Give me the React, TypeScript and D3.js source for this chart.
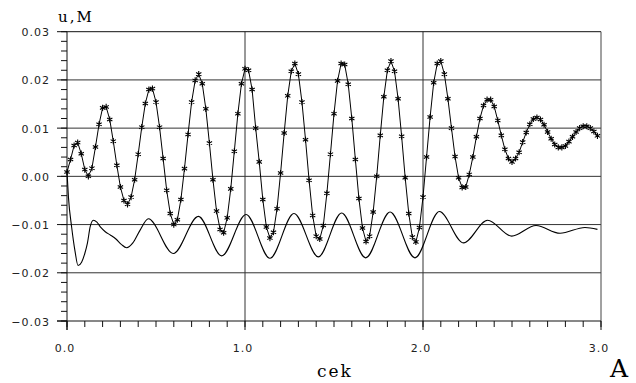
import React, { useEffect, useRef } from 'react';
import * as d3 from 'd3';

const W = 636;
const H = 383;

// displacement u, one value every starStep seconds (asterisk series)
const starStep = 0.02;
const uStar = [
  0.0009, 0.0035, 0.0064, 0.0070, 0.0047, 0.0014, 0.0000, 0.0017, 0.0061, 0.0108,
  0.0142, 0.0144, 0.0118, 0.0073, 0.0023, -0.0022, -0.0050, -0.0058, -0.0043, -0.0007,
  0.0046, 0.0102, 0.0151, 0.0180, 0.0182, 0.0154, 0.0102, 0.0037, -0.0029, -0.0077,
  -0.0100, -0.0090, -0.0048, 0.0016, 0.0087, 0.0154, 0.0199, 0.0212, 0.0192, 0.0140,
  0.0069, -0.0007, -0.0072, -0.0110, -0.0117, -0.0086, -0.0026, 0.0052, 0.0130, 0.0192,
  0.0223, 0.0220, 0.0180, 0.0100, 0.0030, -0.0048, -0.0105, -0.0128, -0.0116, -0.0067,
  0.0007, 0.0090, 0.0167, 0.0218, 0.0234, 0.0212, 0.0154, 0.0076, -0.0008, -0.0081,
  -0.0124, -0.0130, -0.0102, -0.0035, 0.0046, 0.0130, 0.0198, 0.0234, 0.0232, 0.0191,
  0.0120, 0.0035, -0.0046, -0.0107, -0.0135, -0.0124, -0.0074, 0.0000, 0.0085, 0.0165,
  0.0220, 0.0239, 0.0218, 0.0161, 0.0083, -0.0003, -0.0077, -0.0126, -0.0136, -0.0106,
  -0.0043, 0.0040, 0.0123, 0.0194, 0.0234, 0.0239, 0.0212, 0.0161, 0.0100, 0.0041,
  -0.0003, -0.0023, -0.0022, 0.0004, 0.0040, 0.0082, 0.0120, 0.0147, 0.0159, 0.0159,
  0.0145, 0.0116, 0.0085, 0.0056, 0.0037, 0.0030, 0.0037, 0.0050, 0.0071, 0.0091,
  0.0108, 0.0119, 0.0122, 0.0118, 0.0107, 0.0092, 0.0078, 0.0066, 0.0060, 0.0060,
  0.0063, 0.0072, 0.0082, 0.0092, 0.0100, 0.0104, 0.0104, 0.0100, 0.0093, 0.0084,
];

// second (smooth) curve: [time, value]
const lowerCurve: [number, number][] = [
  [0.000, 0.0009], [0.008, -0.0043], [0.026, -0.0105], [0.045, -0.0155], [0.062, -0.0185],
  [0.082, -0.0178], [0.100, -0.0160], [0.115, -0.0138], [0.130, -0.0105], [0.148, -0.0091],
  [0.168, -0.0095], [0.190, -0.0106], [0.215, -0.0115], [0.245, -0.0122], [0.275, -0.0130],
  [0.305, -0.0141], [0.335, -0.0148], [0.370, -0.0138], [0.410, -0.0112], [0.457, -0.0088],
  [0.597, -0.0160], [0.738, -0.0083], [0.869, -0.0165], [1.006, -0.0079], [1.140, -0.0170],
  [1.275, -0.0077], [1.412, -0.0167], [1.543, -0.0076], [1.678, -0.0169], [1.815, -0.0074],
  [1.955, -0.0169], [2.092, -0.0073], [2.227, -0.0138], [2.363, -0.0091], [2.498, -0.0124],
  [2.635, -0.0102], [2.770, -0.0118], [2.910, -0.0106], [2.980, -0.0110],
];

const yMajor = [-0.03, -0.02, -0.01, 0, 0.01, 0.02, 0.03];
const yLabels = ['\u22120.03', '\u22120.02', '\u22120.01', '0.00', '0.01', '0.02', '0.03'];
const xMajor = [0, 1, 2, 3];
const xLabels = ['0.0', '1.0', '2.0', '3.0'];
const yGrid = [-0.02, -0.01, 0, 0.01, 0.02];
const xGrid = [1, 2];

const App = () => {
  const svgRef = useRef<SVGSVGElement>(null);

  useEffect(() => {
    const svg = d3.select(svgRef.current);
    svg.selectAll('*').remove();

    const x = d3.scaleLinear().domain([0, 3]).range([67, 601]);
    const y = d3.scaleLinear().domain([-0.03, 0.03]).range([321, 31.7]);
    const [x0, x1] = x.range();
    const [y0, y1] = y.range();

    const g = svg.append('g');

    // grid
    g.selectAll('.hgrid').data(yGrid).enter().append('line')
      .attr('x1', x0).attr('x2', x1)
      .attr('y1', d => y(d)).attr('y2', d => y(d))
      .attr('stroke', '#333').attr('stroke-width', 1);
    g.selectAll('.vgrid').data(xGrid).enter().append('line')
      .attr('x1', d => x(d)).attr('x2', d => x(d))
      .attr('y1', y1).attr('y2', y0)
      .attr('stroke', '#333').attr('stroke-width', 1);

    // frame
    g.append('line').attr('x1', x0).attr('x2', x1).attr('y1', y1).attr('y2', y1).attr('stroke', '#111');
    g.append('line').attr('x1', x1).attr('x2', x1).attr('y1', y1).attr('y2', y0).attr('stroke', '#444');
    g.append('line').attr('x1', x0).attr('x2', x0).attr('y1', y1).attr('y2', y0 + 9).attr('stroke', '#111');
    g.append('line').attr('x1', x0 - 10).attr('x2', x1).attr('y1', y0).attr('y2', y0).attr('stroke', '#111');

    // y ticks
    const yMinor = d3.range(-15, 16).map(k => k * 0.002);
    g.selectAll('.ymin').data(yMinor).enter().append('line')
      .attr('x1', x0 - 6).attr('x2', x0)
      .attr('y1', d => y(d)).attr('y2', d => y(d))
      .attr('stroke', '#111');
    g.selectAll('.ymaj').data(yMajor).enter().append('line')
      .attr('x1', x0 - 10).attr('x2', x0)
      .attr('y1', d => y(d)).attr('y2', d => y(d))
      .attr('stroke', '#111');
    g.selectAll('.ylab').data(yMajor).enter().append('text')
      .attr('x', 50).attr('y', d => y(d) + 4.5)
      .attr('text-anchor', 'end')
      .attr('font-family', 'DejaVu Sans')
      .attr('font-size', 11)
      .attr('letter-spacing', 1)
      .attr('fill', '#222')
      .text((d, i) => yLabels[i]);

    // x ticks
    const xMinor = d3.range(0, 31).map(k => k * 0.1);
    g.selectAll('.xmin').data(xMinor).enter().append('line')
      .attr('x1', d => x(d)).attr('x2', d => x(d))
      .attr('y1', y0).attr('y2', y0 + 6)
      .attr('stroke', '#111');
    g.selectAll('.xmaj').data(xMajor).enter().append('line')
      .attr('x1', d => x(d)).attr('x2', d => x(d))
      .attr('y1', y0).attr('y2', y0 + 9)
      .attr('stroke', '#111');
    g.selectAll('.xlab').data(xMajor).enter().append('text')
      .attr('x', d => x(d) - 2).attr('y', 352)
      .attr('text-anchor', 'middle')
      .attr('font-family', 'DejaVu Sans')
      .attr('font-size', 11)
      .attr('letter-spacing', 1)
      .attr('fill', '#222')
      .text((d, i) => xLabels[i]);

    // titles
    g.append('text').attr('x', 58).attr('y', 21.7)
      .attr('font-family', 'DejaVu Serif').attr('font-size', 15).attr('letter-spacing', 2)
      .text('u,M');
    g.append('text').attr('x', 317).attr('y', 377)
      .attr('font-family', 'DejaVu Serif').attr('font-size', 17).attr('letter-spacing', 2)
      .text('cek');
    g.append('text').attr('x', 610).attr('y', 377)
      .attr('font-family', 'DejaVu Serif').attr('font-size', 25)
      .text('A');

    // smooth curve
    const smooth = d3.line<[number, number]>()
      .x(d => x(d[0])).y(d => y(d[1]))
      .curve(d3.curveMonotoneX);
    g.append('path').datum(lowerCurve)
      .attr('d', smooth)
      .attr('fill', 'none').attr('stroke', '#000').attr('stroke-width', 1.1);

    // asterisk series
    const line = d3.line<number>()
      .x((d, i) => x(i * starStep)).y(d => y(d));
    g.append('path').datum(uStar)
      .attr('d', line)
      .attr('fill', 'none').attr('stroke', '#000').attr('stroke-width', 1);

    const sym = d3.symbol().type(d3.symbolAsterisk).size(26);
    g.selectAll('.star').data(uStar).enter().append('path')
      .attr('d', sym)
      .attr('transform', (d, i) => `translate(${x(i * starStep)},${y(d)})`)
      .attr('fill', 'none').attr('stroke', '#000').attr('stroke-width', 1.1);
  }, []);

  return (
    <svg
      ref={svgRef}
      width={W}
      height={H}
      style={{ position: 'absolute', left: 0, top: 0, background: '#fff' }}
    />
  );
};

export default App;
